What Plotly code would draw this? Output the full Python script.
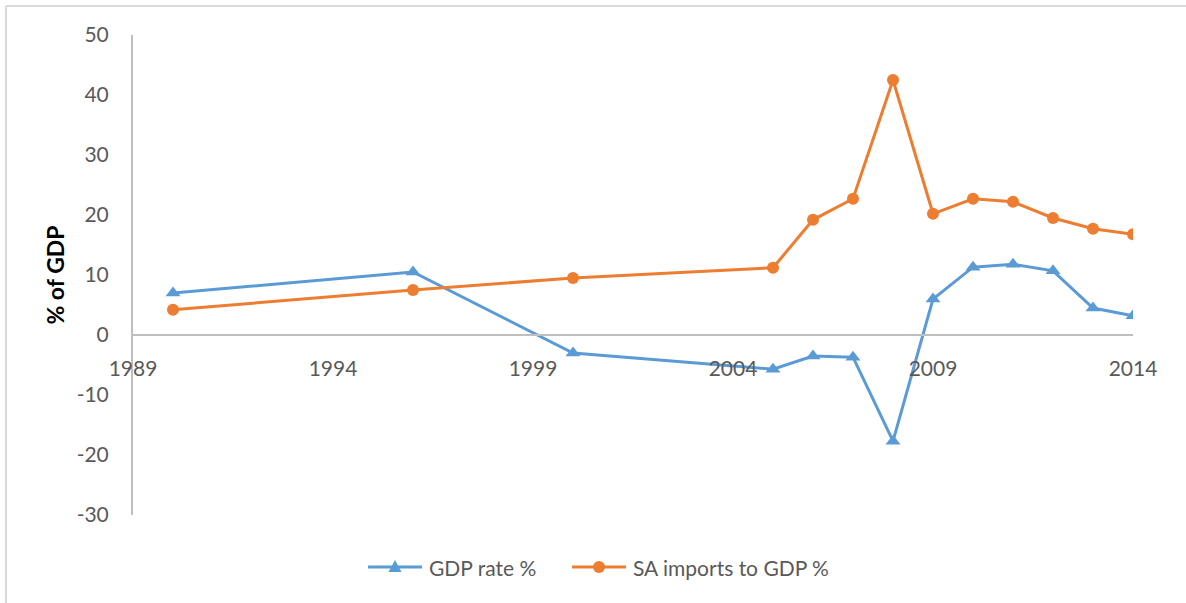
import plotly.graph_objects as go

# Series values by year
years = [1990, 1996, 2000, 2005, 2006, 2007, 2008, 2009, 2010, 2011, 2012, 2013, 2014]
gdp_rate = [7.0, 10.5, -3.0, -5.7, -3.5, -3.7, -17.7, 6.0, 11.3, 11.8, 10.7, 4.5, 3.2]
sa_imports = [4.2, 7.5, 9.5, 11.2, 19.2, 22.7, 42.5, 20.2, 22.7, 22.2, 19.5, 17.7, 16.8]

x_ticks = [1989, 1994, 1999, 2004, 2009, 2014]
y_ticks = [-30, -20, -10, 0, 10, 20, 30, 40, 50]

series_names = ["GDP rate %", "SA imports to GDP %"]

BLUE = "#5B9BD5"
ORANGE = "#ED7D31"
GRID = "#BFBFBF"
TXT = "#595959"
FONT = "Lato, Carlito, 'Open Sans', sans-serif"
FS = 21

# plot-area geometry in pixels (used to place legend pieces in paper units)
L, R, T, B = 133, 1133, 35, 515
W, H = 1186, 603


def px(xp):
    return (xp - L) / (R - L)


def py(yp):
    return (B - yp) / (B - T)


fig = go.Figure()
fig.add_trace(go.Scatter(
    x=years, y=gdp_rate, name=series_names[0], mode="lines+markers",
    line=dict(color=BLUE, width=3),
    marker=dict(symbol="triangle-up", size=13, color=BLUE),
))
fig.add_trace(go.Scatter(
    x=years, y=sa_imports, name=series_names[1], mode="lines+markers",
    line=dict(color=ORANGE, width=3),
    marker=dict(symbol="circle", size=12, color=ORANGE),
))

y_min, y_max = -30, 50
zero_frac = (0 - y_min) / (y_max - y_min)

# legend drawn as shapes + text
leg_y = 567
shapes = [
    # outer frame edges
    dict(type="line", xref="paper", yref="paper", x0=px(6), x1=px(W + 5),
         y0=py(6), y1=py(6), line=dict(color="#D9D9D9", width=2)),
    dict(type="line", xref="paper", yref="paper", x0=px(6), x1=px(6),
         y0=py(6), y1=py(H + 5), line=dict(color="#D9D9D9", width=2)),
    # GDP legend entry
    dict(type="line", xref="paper", yref="paper", x0=px(368), x1=px(422),
         y0=py(leg_y), y1=py(leg_y), line=dict(color=BLUE, width=3)),
    dict(type="path", xref="paper", yref="paper", fillcolor=BLUE, line=dict(width=0),
         path=f"M{px(388.5)},{py(leg_y + 5)} L{px(401.5)},{py(leg_y + 5)} L{px(395)},{py(leg_y - 7)} Z"),
    # imports legend entry
    dict(type="line", xref="paper", yref="paper", x0=px(572), x1=px(626),
         y0=py(leg_y), y1=py(leg_y), line=dict(color=ORANGE, width=3)),
    dict(type="circle", xref="paper", yref="paper", fillcolor=ORANGE, line=dict(width=0),
         x0=px(593), x1=px(605), y0=py(leg_y - 6), y1=py(leg_y + 6)),
]

annotations = [
    dict(text=series_names[0], xref="paper", yref="paper", x=px(427), y=py(leg_y),
         xanchor="left", yanchor="middle", showarrow=False, font=dict(size=FS, color=TXT)),
    dict(text=series_names[1], xref="paper", yref="paper", x=px(631), y=py(leg_y),
         xanchor="left", yanchor="middle", showarrow=False, font=dict(size=FS, color=TXT)),
]

fig.update_layout(
    width=W, height=H,
    margin=dict(l=L, r=W - R, t=T, b=H - B),
    paper_bgcolor="white", plot_bgcolor="white",
    font=dict(family=FONT, size=FS, color=TXT),
    showlegend=False,
    xaxis=dict(
        range=[1989, 2014], tickmode="array", tickvals=x_ticks,
        ticktext=[str(v) for v in x_ticks],
        showgrid=False, zeroline=False, showline=True, linecolor=GRID, linewidth=2,
        anchor="free", position=zero_frac, ticks="outside", ticklen=15,
        tickcolor="rgba(0,0,0,0)", tickfont=dict(size=FS, color=TXT),
    ),
    yaxis=dict(
        range=[y_min, y_max], tickmode="array", tickvals=y_ticks,
        ticktext=[str(v) for v in y_ticks],
        showgrid=False, zeroline=False, showline=True, linecolor=GRID, linewidth=2,
        ticks="outside", ticklen=18, tickcolor="rgba(0,0,0,0)",
        tickfont=dict(size=FS, color=TXT),
        title=dict(text="<b>% of GDP</b>", font=dict(size=23, color="black"), standoff=6),
    ),
    shapes=shapes,
    annotations=annotations,
)

fig.write_html("out.html")
